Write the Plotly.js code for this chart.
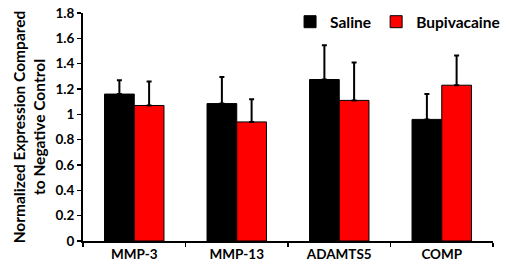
<!DOCTYPE html>
<html><head><meta charset="utf-8">
<script src="https://cdn.plot.ly/plotly-3.0.1.min.js"></script>
<style>body{margin:0;padding:0;background:#fff}#chart{width:510px;height:274px}</style>
</head><body><div id="chart"></div>
<script>
const categories = ["MMP-3", "MMP-13", "ADAMTS5", "COMP"];
const salineValues = [1.16, 1.085, 1.275, 0.96];
const salineErrors = [0.11, 0.21, 0.27, 0.20];
const bupiValues = [1.07, 0.94, 1.11, 1.23];
const bupiErrors = [0.19, 0.18, 0.30, 0.235];
const yTicks = [0, 0.2, 0.4, 0.6, 0.8, 1, 1.2, 1.4, 1.6, 1.8];

const FONT = "Lato, 'Open Sans', sans-serif";
function errBar(arr){return {type:'data', array:arr, symmetric:false, arrayminus:arr.map(()=>0), color:'#000', thickness:2, width:2.5};}
const traces = [
  {type:'bar', name:'Saline', x:categories, y:salineValues, error_y:errBar(salineErrors),
   marker:{color:'#000000', line:{color:'#000', width:1}}},
  {type:'bar', name:'Bupivacaine', x:categories, y:bupiValues, error_y:errBar(bupiErrors),
   marker:{color:'#ff0000', line:{color:'#000', width:1}}}
];
const layout = {
  width:510, height:274,
  margin:{l:83, r:5, t:10, b:33},
  paper_bgcolor:'#fff', plot_bgcolor:'#fff',
  font:{family:FONT, color:'#000', size:13},
  barmode:'group', bargap:0.42, bargroupgap:0,
  showlegend:true,
  legend:{orientation:'h', x:0.505, y:0.96, xanchor:'left', yanchor:'middle',
          font:{family:FONT, size:15.5, weight:'bold'}, bgcolor:'rgba(0,0,0,0)', itemwidth:30},
  xaxis:{type:'category', showline:true, linecolor:'#000', linewidth:2, ticks:'outside', tickson:'boundaries',
         ticklen:4, tickwidth:1.5, tickcolor:'#000', showgrid:false, zeroline:false,
         tickfont:{family:FONT, size:13.5, weight:'bold'}},
  yaxis:{range:[0,1.8], tickvals:yTicks, ticktext:yTicks.map(v=>String(v)), showline:true, linecolor:'#000', linewidth:2,
         ticks:'outside', ticklen:4, tickwidth:1.5, tickcolor:'#000', showgrid:false, zeroline:false,
         tickfont:{family:FONT, size:13.5, weight:'bold'},
         title:{text:'Normalized Expression Compared<br>to Negative Control', font:{family:FONT, size:15.5, weight:'bold'}, standoff:6}}
};
Plotly.newPlot('chart', traces, layout, {displayModeBar:false, staticPlot:true});
</script></body></html>
